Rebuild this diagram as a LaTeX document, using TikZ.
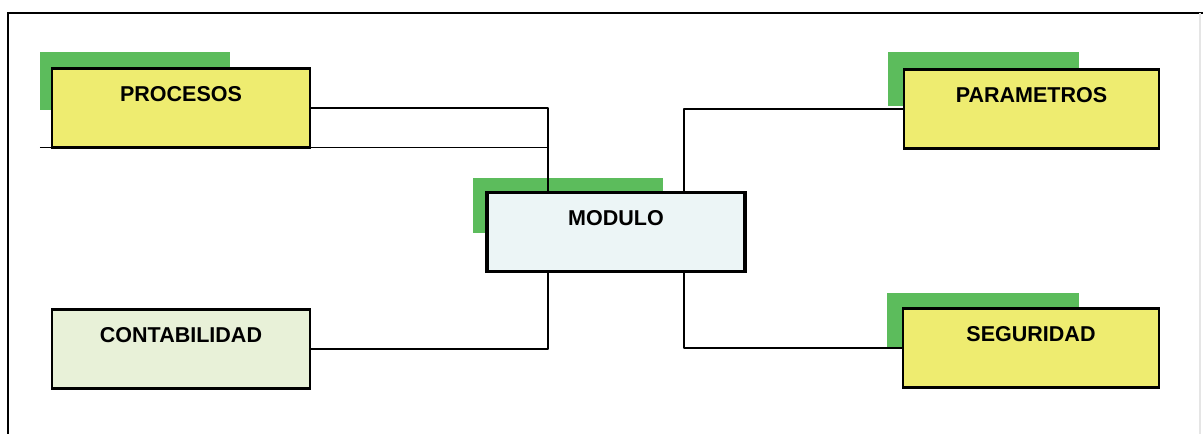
\documentclass[tikz,border=0pt]{standalone}
\usepackage{fontspec}
\setmainfont{Liberation Sans}
\usepackage{tikz}
\usetikzlibrary{positioning, backgrounds}
\usepackage{xcolor}
\definecolor{boxyellow}{RGB}{238,236,112}
\definecolor{boxmint}{RGB}{232,241,216}
\definecolor{boxice}{RGB}{236,245,246}
\definecolor{leafgreen}{RGB}{92,188,92}
\tikzset{
  unit/.style = {rectangle, draw, line width=0.7mm, outer sep=0pt, inner ysep=0pt,
                 minimum width=64.5mm, text height=8.25mm, text depth=11.5mm,
                 font=\fontsize{15.3pt}{18pt}\selectfont\bfseries},
  core/.style = {unit, line width=0.95mm, fill=boxice},
  leaf/.style = {fill=leafgreen},
  link/.style = {line width=0.45mm, line join=round},
  frame/.style = {line width=0.55mm}
}

\begin{document}
\begin{tikzpicture}[x=0.25mm, y=-0.25mm]
\useasboundingbox (0,0) rectangle (1203,434);

\draw[frame] (8,434) -- (8,13) -- (1203,13);
\draw[gray!20, line width=0.3mm] (1200,13) -- (1200,434);

\node[core] (modulo) at (616,232) {MODULO};
\node[unit, fill=boxyellow, above left=11.25mm and 44.25mm of modulo] (procesos) {PROCESOS};
\node[unit, fill=boxmint, below left=9.5mm and 44.25mm of modulo] (contabilidad) {CONTABILIDAD};
\node[unit, fill=boxyellow, minimum width=63.75mm, above right=11mm and 39.75mm of modulo] (parametros) {PARAMETROS};
\node[unit, fill=boxyellow, minimum width=64mm, below right=9.25mm and 39.5mm of modulo] (seguridad) {SEGURIDAD};

% green offsets behind the boxes
\begin{scope}[on background layer]
\fill[leaf] ([shift={(-12,-16)}]procesos.north west) rectangle ([shift={(178,42)}]procesos.north west);
\fill[leaf] ([shift={(-14,-14)}]modulo.north west) rectangle ([shift={(176,41)}]modulo.north west);
\fill[leaf] ([shift={(-16,-17)}]parametros.north west) rectangle ([shift={(175,37)}]parametros.north west);
\fill[leaf] ([shift={(-16,-16)}]seguridad.north west) rectangle ([shift={(176,38)}]seguridad.north west);
\end{scope}

\coordinate (mtl) at ([shift={(61,0)}]modulo.north west);
\coordinate (mtr) at ([shift={(-61,0)}]modulo.north east);
\coordinate (mbl) at ([shift={(61,0)}]modulo.south west);
\coordinate (mbr) at ([shift={(-61,0)}]modulo.south east);
\coordinate (ptail) at ([shift={(-12,0)}]procesos.south west);

\draw[link] (procesos.east) -| (mtl);
\draw[link] (ptail) -- (procesos.south -| mtl);
\draw[link] (parametros.west) -| (mtr);
\draw[link] (contabilidad.east) -| (mbl);
\draw[link] (seguridad.west) -| (mbr);
\end{tikzpicture}
\end{document}
